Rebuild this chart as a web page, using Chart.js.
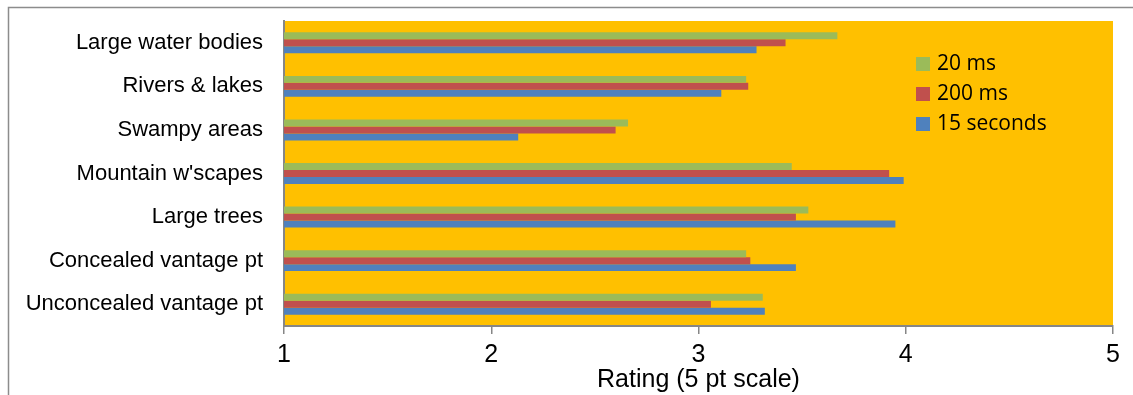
<!DOCTYPE html>
<html>
<head>
<meta charset="utf-8">
<script src="https://cdn.jsdelivr.net/npm/chart.js@4/dist/chart.umd.min.js"></script>
<style>
    html, body { margin: 0; padding: 0; background: #ffffff; }
    #ratingChart { display: block; }
</style>
</head>
<body>
<canvas id="ratingChart" width="1133" height="395"></canvas>
<script>
var categories = ['Large water bodies', 'Rivers & lakes', 'Swampy areas', "Mountain w'scapes", 'Large trees', 'Concealed vantage pt', 'Unconcealed vantage pt']
var seriesNames = ['20 ms', '200 ms', '15 seconds']
var values20ms = [3.67, 3.23, 2.66, 3.45, 3.53, 3.23, 3.31]
var values200ms = [3.42, 3.24, 2.60, 3.92, 3.47, 3.25, 3.06]
var values15s = [3.28, 3.11, 2.13, 3.99, 3.95, 3.47, 3.32]
var xTickLabels = ['1', '2', '3', '4', '5']

var axisGrey = '#868686'

// orange plot area + the outer frame lines
var plotBackground = {
    id: 'plotBackground',
    beforeDraw: function (chart) {
        var ctx = chart.ctx
        var area = chart.chartArea
        ctx.save()
        ctx.fillStyle = '#FFC000'
        ctx.fillRect(area.left, area.top, area.right - area.left, area.bottom - area.top)
        ctx.strokeStyle = '#8c8c8c'
        ctx.lineWidth = 1.5
        ctx.beginPath()
        ctx.moveTo(8.5, 395)
        ctx.lineTo(8.5, 7.5)
        ctx.lineTo(1133, 7.5)
        ctx.stroke()
        ctx.restore()
    }
}

// legend sitting inside the plot, upper right
var insideLegend = {
    id: 'insideLegend',
    afterDraw: function (chart) {
        var ctx = chart.ctx
        ctx.save()
        ctx.font = '21px "Open Sans"'
        ctx.textBaseline = 'middle'
        ctx.textAlign = 'left'
        chart.data.datasets.forEach(function (ds, i) {
            var y = 64 + i * 30
            ctx.fillStyle = ds.backgroundColor
            ctx.fillRect(916, y - 7, 14, 14)
            ctx.fillStyle = '#000000'
            ctx.fillText(ds.label, 937, y)
        })
        ctx.restore()
    }
}

function CreateChart() {
    return new Chart(document.getElementById('ratingChart'), {
        type: 'bar',
        data: {
            labels: categories,
            datasets: [{
                label: seriesNames[0],
                data: values20ms,
                backgroundColor: '#9BBB59'
            }, {
                label: seriesNames[1],
                data: values200ms,
                backgroundColor: '#C0504D'
            }, {
                label: seriesNames[2],
                data: values15s,
                backgroundColor: '#4F81BD'
            }]
        },
        options: {
            indexAxis: 'y',
            responsive: false,
            animation: false,
            devicePixelRatio: 1,
            categoryPercentage: 0.48,
            barPercentage: 1,
            layout: {
                padding: { left: 0, top: 21, right: 20, bottom: 0 }
            },
            scales: {
                x: {
                    min: 1,
                    max: 5,
                    afterFit: function (scale) { scale.height = 69 },
                    border: { display: true, color: axisGrey, width: 2 },
                    grid: {
                        drawOnChartArea: false,
                        drawTicks: true,
                        tickLength: 8,
                        color: axisGrey,
                        lineWidth: 1.5
                    },
                    ticks: {
                        stepSize: 1,
                        padding: 6,
                        color: '#000000',
                        font: { family: '"Liberation Sans", Arial', size: 25 },
                        callback: function (value) {
                            return xTickLabels[value - 1]
                        }
                    },
                    title: {
                        display: true,
                        text: 'Rating (5 pt scale)',
                        color: '#000000',
                        font: { family: '"Liberation Sans", Arial', size: 25 },
                        padding: { top: 0, bottom: 0 }
                    }
                },
                y: {
                    afterFit: function (scale) {
                        scale.width = 284
                        scale.paddingTop = 0
                        scale.paddingBottom = 0
                    },
                    border: { display: true, color: axisGrey, width: 2 },
                    grid: { display: false, drawTicks: false },
                    ticks: {
                        padding: 21,
                        color: '#000000',
                        font: { family: '"Liberation Sans", Arial', size: 22 }
                    }
                }
            },
            plugins: {
                legend: { display: false },
                tooltip: { enabled: false }
            }
        },
        plugins: [plotBackground, insideLegend]
    })
}

CreateChart()
</script>
</body>
</html>
